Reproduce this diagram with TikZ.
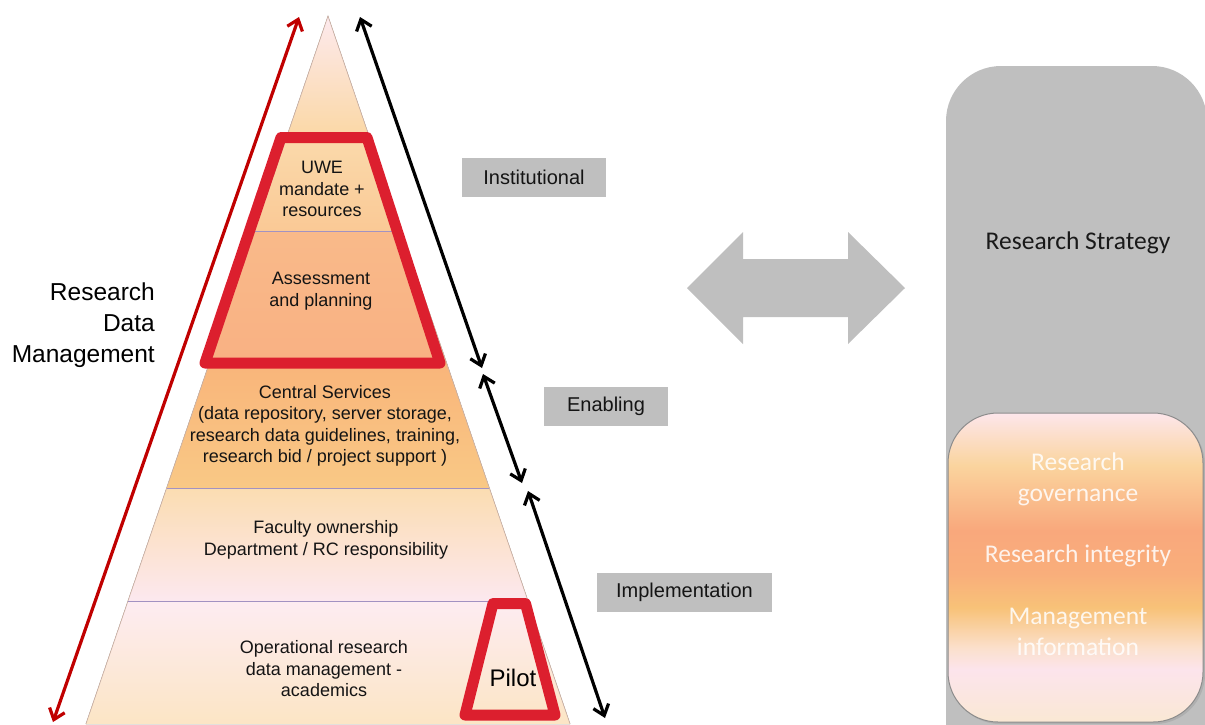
\documentclass[tikz,border=0pt]{standalone}
\usepackage{fontspec}
\setmainfont{Liberation Sans}
\newfontfamily\calibfont{Carlito}
\usetikzlibrary{arrows.meta,shadows}

% palette
\definecolor{frameRed}{HTML}{DC1F2E}
\definecolor{arrowRed}{HTML}{C00000}
\definecolor{boxGray}{HTML}{BFBFBF}
\definecolor{sepLine}{HTML}{A292C2}
\definecolor{pyrEdge}{HTML}{CDB4A8}
\definecolor{gA}{HTML}{FDE6EB}
\definecolor{gB}{HTML}{FAD49E}
\definecolor{gC}{HTML}{F9A87C}
\definecolor{gD}{HTML}{F9AE7B}
\definecolor{gE}{HTML}{F8C278}
\definecolor{gF}{HTML}{FBE0CC}
\definecolor{gG}{HTML}{FCE4EC}
\definecolor{gH}{HTML}{FAE8D4}

% vertical gradient of the lower right panel (bottom = 25bp, top = 75bp)
\pgfdeclareverticalshading{panelgrad}{100bp}{%
  color(0bp)=(gH); color(25bp)=(gH); color(33.5bp)=(gG); color(37bp)=(gF);
  color(43.5bp)=(gE); color(49bp)=(gD); color(56bp)=(gC); color(66.5bp)=(gB);
  color(75bp)=(gA); color(100bp)=(gA)}

\begin{document}
\begin{tikzpicture}[x=1pt,y=-1pt,
  pyrtext/.style={font=\fontsize{18}{21.5}\selectfont, align=center, inner sep=0pt, text=black!92},
  tagbox/.style={fill=boxGray, font=\fontsize{20}{24}\selectfont, inner sep=0pt,
                 minimum height=39pt, text=black!92},
  barb/.style={line width=3.2pt, {Straight Barb[length=10pt,width=16pt]}-{Straight Barb[length=10pt,width=16pt]}},
  frame/.style={draw=frameRed, line width=11pt, line join=round},
  sepline/.style={draw=sepLine, line width=1pt},
  paneltext/.style={font=\calibfont\fontsize{25.5}{31}\selectfont, align=center, inner sep=0pt}
]
\useasboundingbox (0,0) rectangle (1205,724);

% ---- pyramid layers ----
\fill[top color=gA!85!white, bottom color=gB!90!white] (328,16) -- (367.7,132) -- (288.3,132) -- cycle;
\fill[top color=gB!85!white, bottom color=gB!75!gC] (288.3,132) -- (367.7,132) -- (401.5,231) -- (254.5,231) -- cycle;
\fill[top color=gC!60!gB, bottom color=gC!80!gB] (254.5,231) -- (401.5,231) -- (446.7,363) -- (209.3,363) -- cycle;
\fill[top color=gC!50!gE, bottom color=gE!65!gB] (209.3,363) -- (446.7,363) -- (489.4,488) -- (166.6,488) -- cycle;
\fill[top color=gB!80!white, bottom color=gG!85!white] (166.6,488) -- (489.4,488) -- (528.1,601) -- (127.9,601) -- cycle;
\fill[top color=gG!70!white, bottom color=gB!60!white] (127.9,601) -- (528.1,601) -- (570.1,724) -- (85.9,724) -- cycle;
\draw[pyrEdge, line width=0.7pt] (85.9,724) -- (328,16) -- (570.1,724);

% layer separators
\draw[sepline] (254.5,231) -- (401.5,231);
\draw[sepline] (166.6,488) -- (489.4,488);
\draw[sepline] (127.9,601) -- (528.1,601);

% ---- layer texts ----
\node[pyrtext] (uwe) at (322,189) {UWE\\mandate +\\resources};
\node[pyrtext] (assess) at (321,291) {Assessment\\and planning};
\node[pyrtext] (central) at (325,426) {Central Services\\(data repository, server storage,\\research data guidelines, training,\\research bid / project support )};
\node[pyrtext] (faculty) at (326,540) {Faculty ownership\\Department / RC responsibility};
\node[pyrtext] (oper) at (324,669) {Operational research\\data management -\\academics};

% ---- highlighted frames ----
\draw[frame] (281,137.5) -- (367,137.5) -- (440,363) -- (205,363) -- cycle;
\draw[frame] (493,603.5) -- (525.5,603.5) -- (555,715) -- (465,715) -- cycle;
\node[font=\fontsize{24}{28}\selectfont, inner sep=0pt] (pilot) at (513,678) {Pilot};

% ---- scale arrows ----
\coordinate (redLow) at (53,722);
\coordinate (redTop) at (299,17);
\draw[barb, arrowRed] (redLow) -- (redTop);

\coordinate (instTop) at (360,17);
\coordinate (instLow) at (482,368);
\coordinate (enabTop) at (483,374);
\coordinate (enabLow) at (522,483);
\coordinate (implTop) at (528,491);
\coordinate (implLow) at (605,718);
\draw[barb, black] (instTop) -- (instLow);
\draw[barb, black] (enabTop) -- (enabLow);
\draw[barb, black] (implTop) -- (implLow);

% ---- labels ----
\node[font=\fontsize{24.5}{31}\selectfont, align=right, anchor=east, inner sep=0pt] (rdm) at (155,325) {Research\\Data\\Management};
\node[tagbox, minimum width=144pt] (inst) at (534,177) {Institutional};
\node[tagbox, minimum width=124pt] (enab) at (606,406) {Enabling};
\node[tagbox, minimum width=175pt] (impl) at (684.5,592) {Implementation};

% ---- double block arrow ----
\fill[boxGray] (687,288) -- (743,232) -- (743,259) -- (848,259) -- (848,232) -- (905,288)
  -- (848,344) -- (848,317) -- (743,317) -- (743,344) -- cycle;

% ---- strategy panel ----
\fill[boxGray, rounded corners=55pt] (946,66) rectangle (1207,780);
\node[font=\calibfont\fontsize{25.5}{31}\selectfont, inner sep=0pt, text=black!90] (strat) at (1078,243) {Research Strategy};

\path[shading=panelgrad, draw=black!45, line width=1pt, rounded corners=50pt,
  drop shadow={shadow xshift=2pt, shadow yshift=-2pt, opacity=0.25}]
  (948,413) rectangle (1203,722);
\node[paneltext, text=white, text opacity=0.85] (gov) at (1078,479) {Research\\governance};
\node[paneltext, text=white, text opacity=0.85] (integ) at (1078,556) {Research integrity};
\node[paneltext, text=white, text opacity=0.85] (mgmt) at (1078,632) {Management\\information};
\end{tikzpicture}
\end{document}
